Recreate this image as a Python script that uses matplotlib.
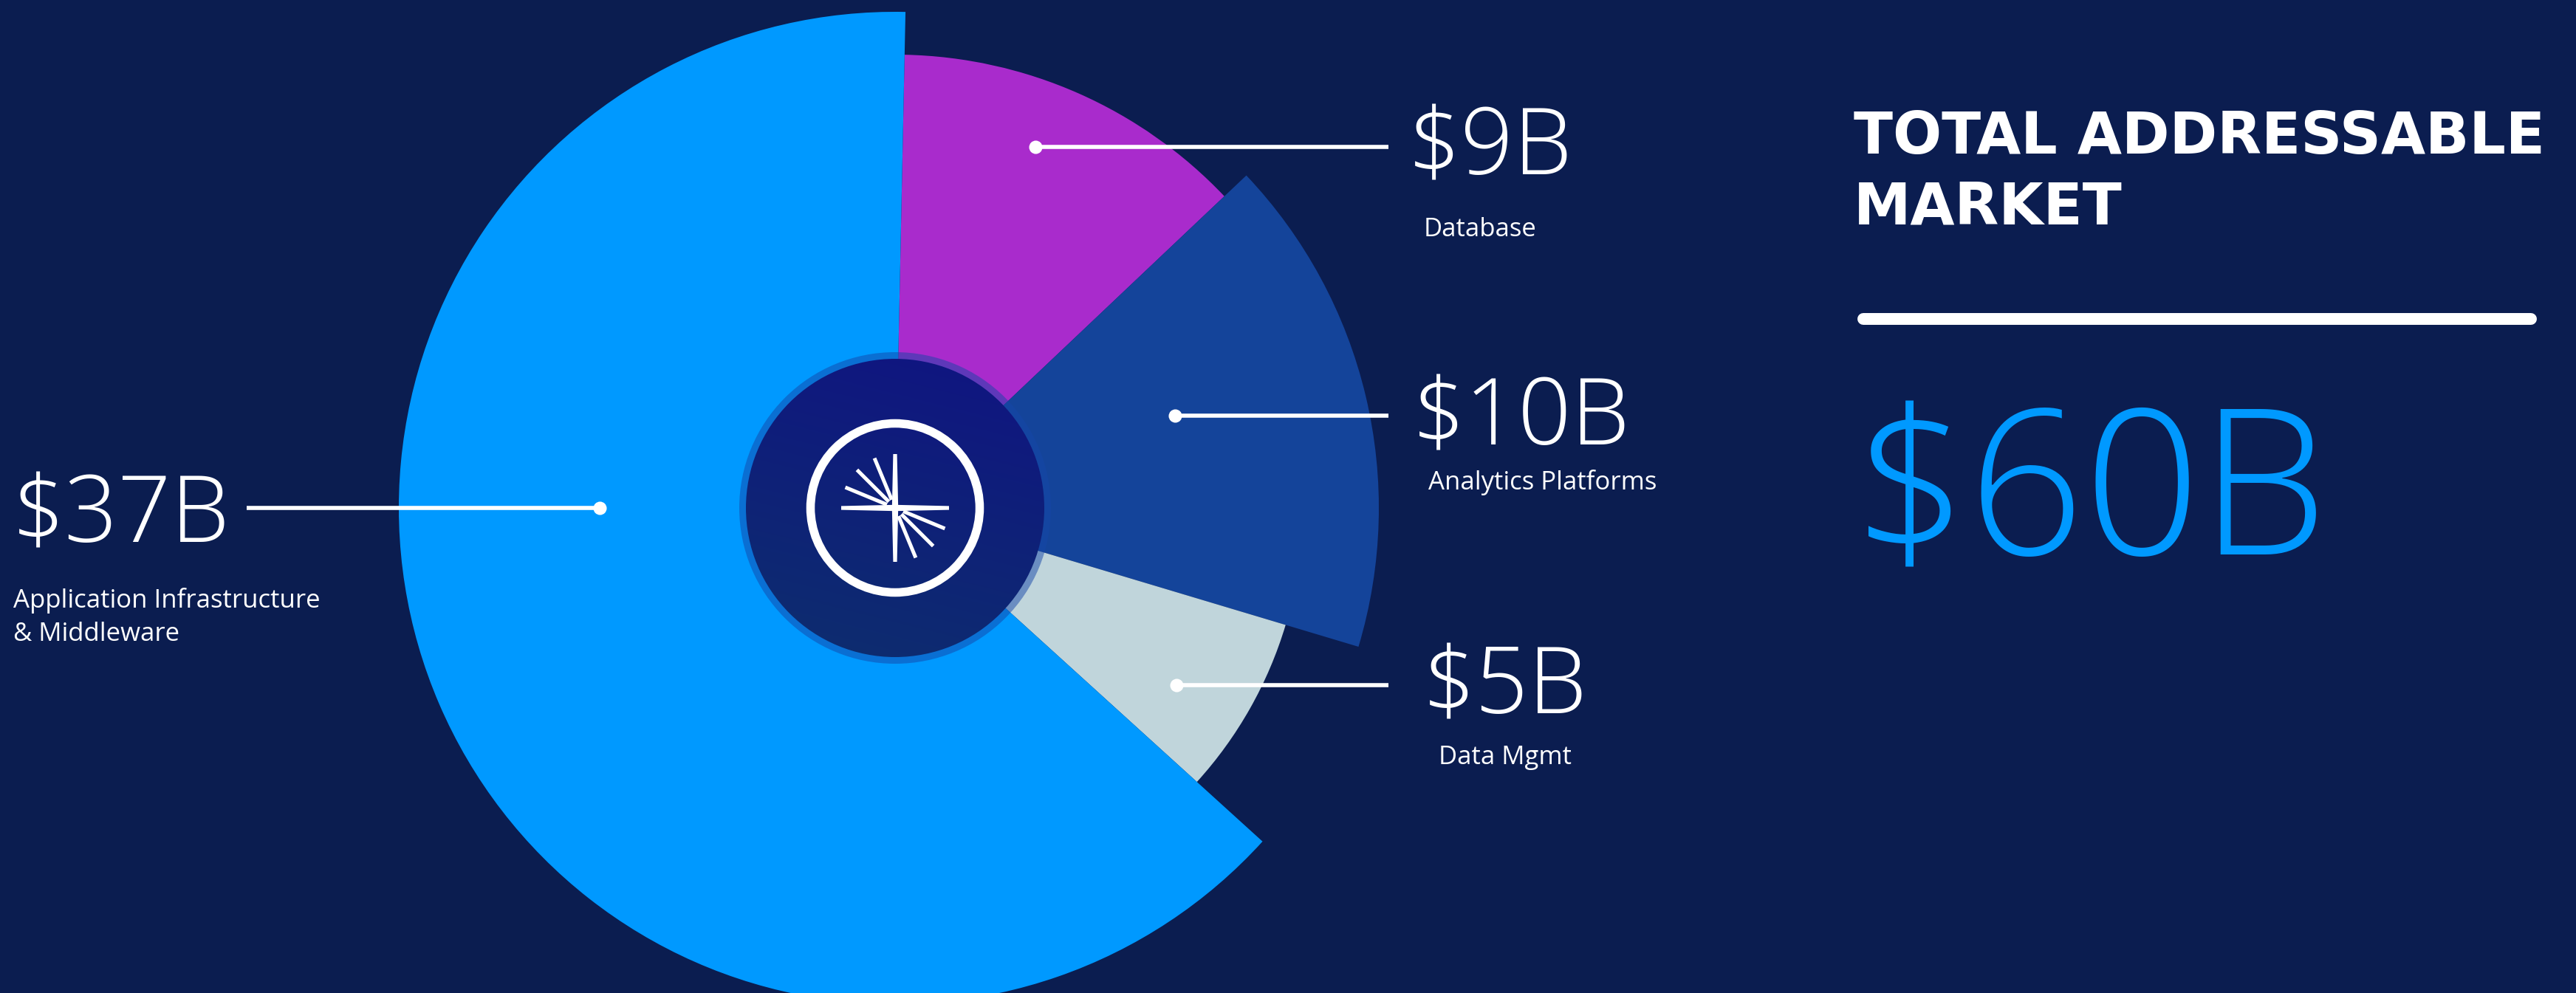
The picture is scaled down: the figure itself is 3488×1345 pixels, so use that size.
import numpy as np
import matplotlib
matplotlib.use('Agg')
import matplotlib.pyplot as plt
import matplotlib.patches as patches

# market segments, clockwise from 12 o'clock
categories = ['Database', 'Analytics Platforms', 'Data Mgmt', 'Application Infrastructure\n& Middleware']
values_bn = [9, 10, 5, 37]
share_pct = [12.6, 16.7, 7.1, 63.6]      # share of the circle as drawn
total_bn = 60

# drawing setup (pixels)
W, H = 3488, 1345
CX, CY = 1212, 688
START_DEG = 88.8
radius = [614, 655, 552, 672]
colors = ['#a92bcc', '#14449a', '#c0d5db', '#0099ff']
BG = '#0b1d50'

label_fonts = ['Open Sans', 'DejaVu Sans']

# leader line: dot (x, y) -> line end x, text x, value baseline, name baseline
leaders = [
    ((1402, 199), 1880, 1906, 237, 320),
    ((1591, 563), 1880, 1912, 603, 663),
    ((1593, 928), 1880, 1926, 967, 1035),
]

fig = plt.figure(figsize=(W / 100, H / 100), dpi=100)
fig.patch.set_facecolor(BG)

# polar wedges, one unit of r = one pixel
R = 700
pax = fig.add_axes([(CX - R) / W, (H - CY - R) / H, 2 * R / W, 2 * R / H], projection='polar')
pax.set_axis_off()
pax.set_ylim(0, R)
spans = np.radians(np.array(share_pct) * 3.6)
ends = np.radians(START_DEG) - np.cumsum(spans)
starts = ends + spans
pax.bar((starts + ends) / 2, radius, width=spans, bottom=0, color=colors,
        edgecolor='none', align='center')

# overlay in pixel coords
ax = fig.add_axes([0, 0, 1, 1])
ax.set_xlim(0, W)
ax.set_ylim(H, 0)
ax.set_axis_off()
ax.patch.set_alpha(0)

# center disc with translucent rim
ax.add_patch(patches.Circle((CX, CY), 211, facecolor='#1546a8', alpha=0.5, edgecolor='none', zorder=2))
disc = patches.Circle((CX, CY), 202, facecolor='none', edgecolor='none', zorder=3)
ax.add_patch(disc)
t = np.linspace(0, 1, 256)[:, None]
s = np.linspace(0, 1, 256)[None, :]
mix = np.clip(0.8 * t + 0.2 * (1 - s), 0, 1)
top = np.array([16, 20, 130]) / 255
bot = np.array([13, 46, 110]) / 255
img = top[None, None, :] * (1 - mix[..., None]) + bot[None, None, :] * mix[..., None]
im = ax.imshow(img, extent=(CX - 202, CX + 202, CY + 202, CY - 202), origin='upper',
               aspect='auto', zorder=3, interpolation='bilinear')
im.set_clip_path(disc)
ax.set_xlim(0, W)
ax.set_ylim(H, 0)

# logo: ring + rays
ax.add_patch(patches.Circle((CX, CY), 114.5, facecolor='none', edgecolor='white', lw=8.3, zorder=4))
for a in [0, 90]:
    ca, sa = np.cos(np.radians(a)), -np.sin(np.radians(a))
    px, py = -sa, ca
    L, w0, w1 = 73, 2.6, 4.2
    pts = [(CX + L * ca + w0 * px, CY + L * sa + w0 * py),
           (CX + w1 * px, CY + w1 * py),
           (CX - L * ca + w0 * px, CY - L * sa + w0 * py),
           (CX - L * ca - w0 * px, CY - L * sa - w0 * py),
           (CX - w1 * px, CY - w1 * py),
           (CX + L * ca - w0 * px, CY + L * sa - w0 * py)]
    ax.add_patch(patches.Polygon(pts, closed=True, facecolor='white', edgecolor='none', zorder=5))
for a in [112.5, 135, 157.5, -22.5, -45, -67.5]:
    ca, sa = np.cos(np.radians(a)), -np.sin(np.radians(a))
    ax.plot([CX + 12 * ca, CX + 73 * ca], [CY + 12 * sa, CY + 73 * sa], color='white',
            lw=3.6, solid_capstyle='butt', zorder=5)

# leader lines and labels on the right
for i, ((dx, dy), x_end, tx, vb, nb) in enumerate(leaders):
    ax.plot([dx, x_end], [dy, dy], color='white', lw=4, solid_capstyle='butt', zorder=6)
    ax.plot(dx, dy, 'o', color='white', ms=13, mec='none', zorder=6)
    ax.text(tx, vb, f'${values_bn[i]}B', color='white', fontsize=91, fontweight='light',
            family=label_fonts, ha='left', va='baseline', zorder=6)
    ax.text(tx + 22, nb, categories[i], color='white', fontsize=25, fontweight='normal',
            family=label_fonts, ha='left', va='baseline', zorder=6)

# left label
ax.plot([334, 812], [688, 688], color='white', lw=4, solid_capstyle='butt', zorder=6)
ax.plot(812, 688, 'o', color='white', ms=13, mec='none', zorder=6)
ax.text(16, 735, f'${values_bn[3]}B', color='white', fontsize=91, fontweight='light',
        family=label_fonts, ha='left', va='baseline', zorder=6)
for k, line in enumerate(categories[3].split('\n')):
    ax.text(18, 823 + 45 * k, line, color='white', fontsize=25, family=label_fonts,
            ha='left', va='baseline', zorder=6)

# total addressable market
ax.text(2510, 208, 'TOTAL ADDRESSABLE', color='white', fontsize=56, fontweight='bold',
        family=['DejaVu Sans'], ha='left', va='baseline')
ax.text(2510, 303, 'MARKET', color='white', fontsize=56, fontweight='bold',
        family=['DejaVu Sans'], ha='left', va='baseline')
ax.plot([2523, 3427], [432, 432], color='white', lw=11.5, solid_capstyle='round')
ax.text(2508, 752, f'${total_bn}B', color='#0099ff', fontsize=198, fontweight='light',
        family=label_fonts, ha='left', va='baseline')

fig.savefig('out.png', dpi=100, facecolor=BG)
